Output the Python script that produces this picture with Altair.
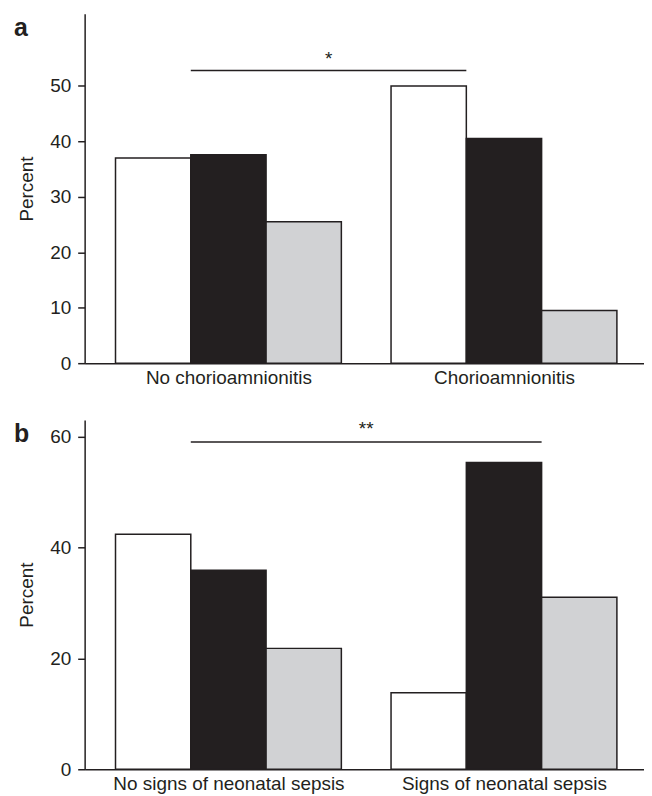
import altair as alt
import pandas as pd

series = ["white", "black", "grey"]
fills = ["#ffffff", "#231f20", "#d1d2d4"]

groups_a = ["No chorioamnionitis", "Chorioamnionitis"]
vals_a = {"white": [37.0, 50.0], "black": [37.6, 40.5], "grey": [25.5, 9.5]}
ticks_a = [0, 10, 20, 30, 40, 50]
sig_a = {"level": 52.8, "text": "*", "start": (0, "black"), "end": (1, "black")}

groups_b = ["No signs of neonatal sepsis", "Signs of neonatal sepsis"]
vals_b = {"white": [42.4, 13.8], "black": [35.9, 55.3], "grey": [21.8, 31.0]}
ticks_b = [0, 20, 40, 60]
sig_b = {"level": 59.0, "text": "**", "start": (0, "black"), "end": (1, "grey")}

YMAX = 63
FONT = "Liberation Sans"
INK = "#231f20"
FS = 19

# layout in bar-width units
GAP = 0.66          # gap between the two groups
PAD_L, PAD_R = 0.41, 0.36
NS = len(series)


def slot(gi, si):
    return gi * (NS + GAP) + si


def panel(letter, groups, vals, ticks, sig, star_dy):
    rows = []
    for si, s in enumerate(series):
        for gi, v in enumerate(vals[s]):
            rows.append({"group": groups[gi], "series": s, "value": v,
                         "x0": slot(gi, si), "x1": slot(gi, si) + 1})
    df = pd.DataFrame(rows)

    x_end = slot(len(groups) - 1, NS - 1) + 1
    centers = [slot(gi, 0) + NS / 2 for gi in range(len(groups))]
    split = (centers[0] + centers[1]) / 2
    label_expr = f"datum.value < {split} ? '{groups[0]}' : '{groups[1]}'"

    xscale = alt.Scale(domain=[-PAD_L, x_end + PAD_R], nice=False, zero=False, padding=0)
    xaxis = alt.Axis(title=None, ticks=False, values=centers, labelExpr=label_expr,
                     labelFontSize=FS, labelFont=FONT, labelColor=INK, labelPadding=5,
                     labelLimit=0, labelFlush=False, labelOverlap=False, grid=False,
                     domainColor=INK, domainWidth=1.5)
    yscale = alt.Scale(domain=[0, YMAX], nice=False, padding=0)
    yaxis = alt.Axis(title="Percent", values=ticks, grid=False, tickSize=7,
                     tickColor=INK, tickWidth=1.5, domainColor=INK, domainWidth=1.5,
                     labelFontSize=FS, labelFont=FONT, labelColor=INK, labelPadding=7,
                     titleFontSize=FS, titleFont=FONT, titleColor=INK,
                     titleFontWeight="normal", titlePadding=13)

    bars = alt.Chart(df).mark_bar(stroke=INK, strokeWidth=1.5).encode(
        x=alt.X("x0:Q", scale=xscale, axis=xaxis),
        x2="x1:Q",
        y=alt.Y("value:Q", scale=yscale, axis=yaxis),
        y2=alt.datum(0),
        fill=alt.Fill("series:N", sort=series, scale=alt.Scale(domain=series, range=fills), legend=None),
    )

    xs = slot(sig["start"][0], series.index(sig["start"][1]))
    xe = slot(sig["end"][0], series.index(sig["end"][1]))
    sig_df = pd.DataFrame([{"xs": xs, "xe": xe, "xm": (xs + xe) / 2,
                            "value": sig["level"], "label": sig["text"]}])
    line = alt.Chart(sig_df).mark_rule(color=INK, strokeWidth=1.5).encode(
        x="xs:Q", x2="xe:Q", y="value:Q",
    )
    star = alt.Chart(sig_df).mark_text(font=FONT, fontSize=19, color=INK, baseline="bottom",
                                       align="center", dy=star_dy).encode(
        x="xm:Q", y="value:Q", text="label:N",
    )

    let = alt.Chart(pd.DataFrame([{"label": letter}])).mark_text(
        font=FONT, fontSize=25, fontWeight="bold", color=INK, align="left", baseline="top"
    ).encode(x=alt.value(-71), y=alt.value(2), text="label:N")

    return alt.layer(bars, line, star, let).properties(width=562, height=351)


a = panel("a", groups_a, vals_a, ticks_a, sig_a, -1)
b = panel("b", groups_b, vals_b, ticks_b, sig_b, -3)

chart = alt.vconcat(a, b, spacing=33).properties(
    padding={"top": 4, "left": 6, "right": 0, "bottom": 0}
).configure_view(stroke=None)

chart.save("out.html", embed_options={"renderer": "svg", "actions": False})
